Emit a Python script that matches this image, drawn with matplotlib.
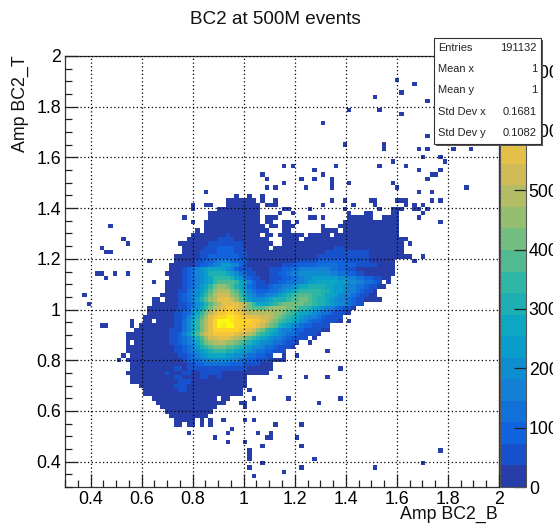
import numpy as np
import matplotlib
matplotlib.use('Agg')
import matplotlib.pyplot as plt
from matplotlib.colors import BoundaryNorm, LinearSegmentedColormap, ListedColormap
from matplotlib.patches import Rectangle

W, H = 553, 525
plt.rcParams['font.family'] = ['Liberation Sans', 'DejaVu Sans']

#bins are counted from the left (col) and from the top (row)
n_bins = 100
amp_min, amp_max = 0.3, 2.0
z_max = 726.0
n_levels = 20

#single filled bins away from the main blob
stray_col = [76, 80, 77, 71, 83, 65, 72, 77, 59, 83, 64, 73, 73, 81, 83, 89, 93, 82, 86, 75, 87, 50, 52, 62, 72, 78, 57, 81, 86,
             45, 46, 50, 46, 48, 32, 45, 45, 39, 42, 48, 29, 32, 33, 29, 50, 51, 49, 27, 29, 10, 30, 13, 14, 26, 8, 9, 10, 19,
             7, 8, 11, 14, 9, 20, 4, 5, 15, 8, 9, 15, 13, 12,
             59, 84, 85, 54, 57, 61, 83, 65, 75, 61, 55, 61, 76, 92, 81, 84, 61, 64, 70, 71, 76, 77, 78, 84, 86,
             59, 66, 71, 78, 80, 82, 56, 64, 72, 75, 76, 77, 80, 81, 83, 52, 65, 69, 70, 75, 76, 82, 56, 57, 59, 81,
             53, 86, 52, 59, 59, 60, 50, 51, 79, 82, 80,
             65, 63, 49, 55, 60, 42, 43, 51, 63, 58, 36, 41, 43, 33, 31, 31, 33, 48, 54, 38, 28, 37, 44, 47, 34, 46, 47, 53,
             37, 41, 45, 54, 42, 86, 42, 42, 57, 45, 82, 42, 54, 71, 50, 43, 60, 53, 56]
stray_row = [5, 6, 8, 9, 10, 12, 12, 13, 15, 18, 20, 20, 21, 21, 21, 21, 21, 23, 23, 24, 24, 25, 25, 25, 25, 25, 26, 26, 26,
             27, 28, 29, 30, 30, 31, 32, 33, 32, 32, 33, 34, 34, 34, 35, 35, 35, 36, 37, 38, 39, 40, 42, 43, 43, 44, 45, 45, 47,
             50, 50, 50, 50, 51, 52, 55, 57, 61, 62, 62, 62, 69, 70,
             27, 27, 27, 28, 28, 28, 28, 29, 29, 29, 30, 30, 30, 30, 31, 31, 33, 33, 33, 33, 33, 33, 33, 33, 33,
             34, 34, 34, 34, 34, 34, 35, 35, 35, 35, 35, 35, 35, 35, 35, 36, 36, 36, 36, 36, 36, 36, 37, 37, 37, 37,
             38, 38, 39, 39, 40, 40, 40, 40, 43, 46, 47,
             61, 72, 74, 74, 74, 77, 79, 79, 79, 80, 84, 84, 84, 84, 84, 85, 85, 85, 85, 86, 87, 87, 87, 87, 88, 88, 88, 88,
             89, 89, 90, 90, 91, 91, 92, 93, 93, 94, 94, 95, 95, 95, 96, 97, 68, 69, 66]

#runs of lowest-level bins that make up the blob: row, first col, last col
run_row = [33, 34, 34, 35, 36, 37, 37, 37, 37, 38, 38, 38, 38, 39, 39, 39, 39, 40, 40, 40, 40, 41, 41, 41, 41, 41, 41,
           42, 42, 42, 43, 43, 44, 44, 45, 46, 47, 48, 49, 50, 51, 52, 52, 53, 54, 55, 56, 56, 57, 58, 59, 60, 61, 61,
           62, 63, 64, 65, 65, 66, 66, 67, 68, 69, 69, 70, 71, 72, 73, 74, 75, 76, 77, 78, 79, 79, 80, 80, 81, 81,
           82, 83, 84, 84, 85, 85]
run_first = [37, 37, 46, 35, 33, 33, 46, 65, 73, 32, 46, 50, 64, 32, 47, 50, 63, 32, 50, 61, 64, 29, 46, 49, 56, 59, 62,
             28, 50, 55, 27, 50, 27, 48, 27, 25, 25, 24, 24, 23, 24, 23, 74, 23, 23, 22, 20, 23, 20, 19, 19, 18, 18, 21,
             17, 16, 14, 14, 57, 14, 16, 14, 14, 15, 50, 14, 15, 15, 14, 15, 15, 17, 18, 18, 20, 36, 21, 40, 22, 41,
             23, 24, 25, 27, 25, 28]
run_last = [43, 44, 48, 44, 44, 44, 48, 70, 76, 44, 47, 51, 76, 45, 48, 51, 76, 46, 51, 62, 76, 44, 47, 54, 58, 60, 76,
            46, 53, 78, 47, 77, 46, 77, 77, 79, 75, 75, 75, 75, 74, 72, 74, 73, 71, 71, 21, 72, 68, 66, 65, 63, 19, 63,
            60, 60, 58, 55, 57, 14, 53, 52, 50, 47, 50, 50, 47, 47, 46, 41, 41, 41, 40, 40, 34, 37, 36, 41, 34, 41,
            33, 32, 26, 29, 26, 29]

#colour level of the inner bins, one character per bin (0-9 then a-j)
inner_row = [41, 42, 43, 44, 44, 45, 45, 46, 46, 47, 47, 48, 48,
             49, 49, 50, 50, 51, 52, 53, 54, 55, 56, 57, 58, 59, 60, 61, 62, 63, 64, 65, 66, 67, 68, 69, 70, 71, 72, 73, 74, 75, 76, 77]
inner_start = [37, 35, 33, 32, 62, 31, 60, 31, 58, 30, 53, 30, 50,
               27, 47, 27, 47, 27, 27, 27, 26, 26, 26, 26, 26, 25, 25, 25, 25, 24, 24, 24, 24, 25, 25, 26, 27, 28, 25, 23, 25, 26, 25, 26]
inner_levels = ['1', '1111', '11111111', '111222211', '11', '11112222111', '1111111111', '11222222211', '111111111111',
                '112234443222', '11111222222211111', '122344665421', '1112222233333222211111',
                '1234567776542111', '1112233444444433221100', '12345688887653211', '1122344555555544332211',
                '1234567999986532110011122334556666665544332211',
                '1234567' + '9aaaa9764211011223344566777776655443321',
                '1234679bcc' + 'ba87532111' + '2334456778' + '8887766544' + '33211',
                '1' + '134568acdd' + 'dba8643222' + '3345678999' + '9988766544' + '3211',
                '1' + '234579bdee' + 'ecb9754334' + '456789aaaa' + '9987765443' + '211',
                '1' + '23468acdff' + 'feca865556' + '78889aabba' + '9887654432' + '11',
                '1' + '123568acdf' + 'fffedb9777' + '89abbbbbaa' + '9887655432' + '11',
                '1' + '12457 9bdef'.replace(' ', '') + 'ggfecbaaab' + 'ccccbba998' + '765443211',
                '1' + '123579bdfg' + 'ghhgfedddd' + 'ddccba9877' + '654332111',
                '1' + '12468acfgh' + 'hiihggfffe' + 'edcba98765' + '44321111',
                '1' + '13579bdfhj' + 'jjihhhhggf' + 'ecba987654' + '3221111',
                '1' + '13579bdfhj' + 'ijjhhhggfe' + 'cba8765432' + '21111',
                '1' + '11357 9bdfh'.replace(' ', '') + 'hhhhhggfec' + 'b987544322' + '1111',
                '1' + '12468acefg' + 'ggggfeedca' + '9876543321' + '111',
                '1' + '123468acee' + 'fffedcba98' + '765443211' + '11',
                '1' + '123457 9bcd'.replace(' ', '') + 'ddccba9876' + '55433211',
                '1123468 9ab'.replace(' ', '') + 'bbaa987655' + '4332111',
                '1123456789' + '9988766543' + '322111',
                '1123456777' + '7665543322' + '11',
                '1233445555' + '5443322111',
                '1122333333' + '2221111',
                '11011111111111111', '1000110011111000', '11000011001', '111000', '1110', '110']

#palette stops of the ROOT bird colour map
bird_red = [0.2082, 0.0592, 0.0780, 0.0232, 0.1802, 0.5301, 0.8186, 0.9956, 0.9764]
bird_green = [0.1664, 0.3599, 0.5041, 0.6419, 0.7178, 0.7492, 0.7328, 0.7862, 0.9832]
bird_blue = [0.5293, 0.8684, 0.8385, 0.7914, 0.6425, 0.4662, 0.3499, 0.1968, 0.0539]
z_ticks = [0, 100, 200, 300, 400, 500, 600, 700]

stats_names = ['Entries', 'Mean x', 'Mean y', 'Std Dev x', 'Std Dev y']
stats_values = ['191132', '1', '1', '0.1681', '0.1082']


def px_rect(x0, y_top, x1, y_bottom):
    return [x0 / W, 1 - y_bottom / H, (x1 - x0) / W, (y_bottom - y_top) / H]


band = z_max / n_levels
levels = np.full((n_bins, n_bins), np.nan)
for r, a, b in zip(run_row, run_first, run_last):
    levels[r, a:b + 1] = 0
for c, r in zip(stray_col, stray_row):
    levels[r, c] = 0
for r, s, chars in zip(inner_row, inner_start, inner_levels):
    for i, ch in enumerate(chars):
        levels[r, s + i] = int(ch, 20)
counts = np.ma.masked_invalid((levels[::-1] + 0.5) * band)

bird = LinearSegmentedColormap.from_list('bird', list(zip(bird_red, bird_green, bird_blue)), N=255)
cmap = ListedColormap([bird((i + 0.99) / n_levels) for i in range(n_levels)])
bounds = np.linspace(0, z_max, n_levels + 1)
norm = BoundaryNorm(bounds, cmap.N)

fig = plt.figure(figsize=(W / 100, H / 100), dpi=100)
ax = fig.add_axes(px_rect(65, 56, 499, 487))
edges = np.linspace(amp_min, amp_max, n_bins + 1)
mesh = ax.pcolormesh(edges, edges, counts, cmap=cmap, norm=norm, zorder=1)

ax.set_xlim(amp_min, amp_max)
ax.set_ylim(amp_min, amp_max)
ax.set_xticks(np.arange(0.4, 2.01, 0.2))
ax.set_yticks(np.arange(0.4, 2.01, 0.2))
ax.set_xticklabels(['0.4', '0.6', '0.8', '1', '1.2', '1.4', '1.6', '1.8', '2'])
ax.set_yticklabels(['0.4', '0.6', '0.8', '1', '1.2', '1.4', '1.6', '1.8', '2'])
ax.set_xticks(np.arange(0.3, 2.001, 0.05), minor=True)
ax.set_yticks(np.arange(0.3, 2.001, 0.05), minor=True)
ax.tick_params(which='major', direction='in', length=9.5, width=0.9, labelsize=12.8, pad=3, color='#222222')
ax.tick_params(which='minor', direction='in', length=4.8, width=0.9, color='#222222')
ax.grid(True, which='major', color='black', linestyle=(0, (1, 2)), linewidth=0.9, zorder=2)
ax.set_axisbelow(False)
for s in ax.spines.values():
    s.set_linewidth(0.9)
    s.set_color('#333333')

fig.text(400 / W, 1 - 514 / H, 'Amp BC2_B', fontsize=12.8, va='center', ha='left', color='#111111')
fig.text(20 / W, 1 - 55 / H, 'Amp BC2_T', fontsize=12.8, rotation=90, va='top', ha='center', color='#111111')
fig.text(275 / W, 1 - 20 / H, 'BC2 at 500M events', fontsize=13.6, va='center', ha='center', color='#111111')

cax = fig.add_axes(px_rect(500, 56, 526, 487))
cbar = fig.colorbar(mesh, cax=cax, spacing='proportional', ticks=z_ticks, drawedges=False)
cbar.ax.set_yticklabels([str(t) for t in z_ticks])
cbar.ax.minorticks_off()
cbar.ax.tick_params(direction='in', length=9, width=0.9, labelsize=12.8, pad=2, color='#222222')
cbar.outline.set_linewidth(0.8)
cbar.outline.set_edgecolor('#555555')

#stats box with its shadow
x0, y_top, x1, y_bottom = 434, 38, 541, 144
fig.add_artist(Rectangle((x0 / W + 2 / W, 1 - (y_bottom + 2) / H), (x1 - x0) / W, (y_bottom - y_top) / H,
                         transform=fig.transFigure, facecolor='#555555', edgecolor='none', zorder=5))
fig.add_artist(Rectangle((x0 / W, 1 - y_bottom / H), (x1 - x0) / W, (y_bottom - y_top) / H,
                         transform=fig.transFigure, facecolor='white', edgecolor='#333333', linewidth=0.8, zorder=6))
for i in range(len(stats_names)):
    y_txt = 48 + i * 21.2
    fig.text(438 / W, 1 - y_txt / H, stats_names[i], fontsize=7.9, va='center', ha='left', color='#222222', zorder=7)
    fig.text(537 / W, 1 - y_txt / H, stats_values[i], fontsize=8, va='center', ha='right', color='#222222', zorder=7)

fig.savefig('out.png', dpi=100)
